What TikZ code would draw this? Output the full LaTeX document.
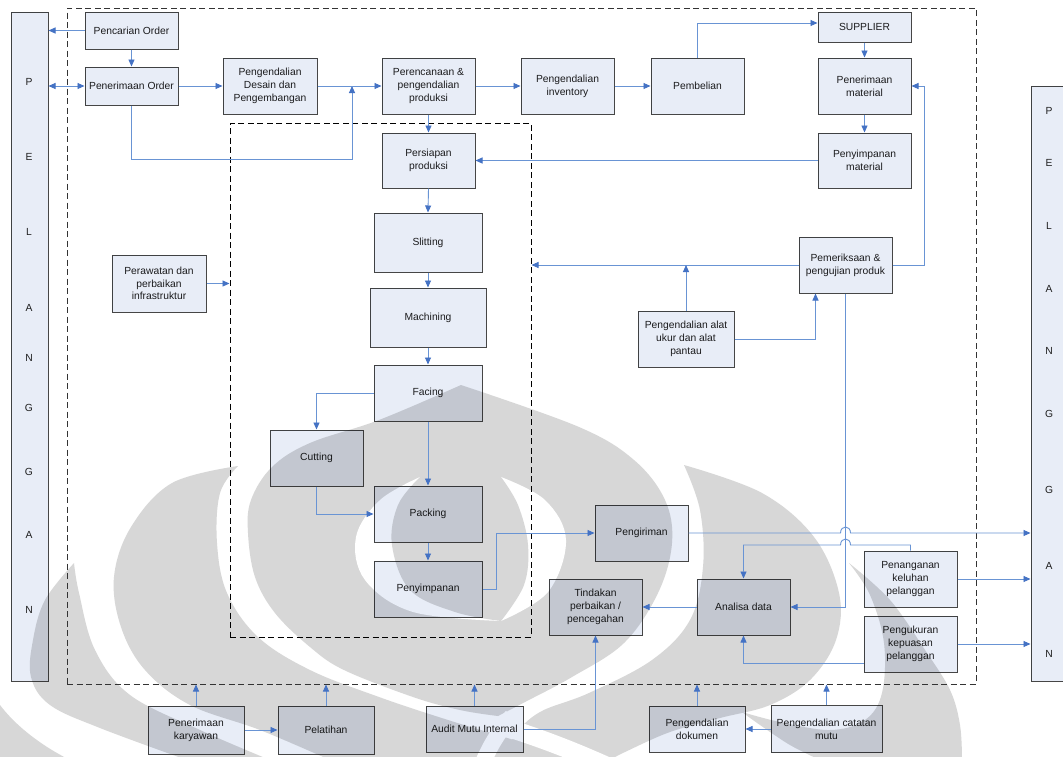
\documentclass[tikz,border=0pt]{standalone}
\usepackage{fontspec}
\setmainfont{Liberation Sans}
\usetikzlibrary{arrows.meta,calc}
\definecolor{boxfill}{RGB}{232,237,247}
\definecolor{boxline}{RGB}{70,70,70}
\definecolor{linkblue}{RGB}{105,148,212}
\definecolor{tipblue}{RGB}{68,114,196}
\definecolor{wmgray}{RGB}{215,215,215}
\definecolor{txt}{RGB}{30,30,30}
\begin{document}
\begin{tikzpicture}[x=1pt,y=-1pt,
  pbox/.style={draw=boxline, line width=1pt, fill=boxfill, blend mode=multiply,
    align=center, font=\fontsize{10.3}{12.8}\selectfont, text=txt, inner sep=1pt},
  bar/.style={draw=boxline, line width=1pt, fill=boxfill, blend mode=multiply},
  lettr/.style={font=\fontsize{10.3}{12}\selectfont, text=txt, inner sep=0pt},
  frame/.style={draw=black!80, line width=1pt, dash pattern=on 6pt off 3.5pt, inner sep=0pt},
  conn/.style={draw=linkblue, line width=0.9pt, -{Triangle[length=7pt,width=6pt,color=tipblue]}},
  conntwo/.style={draw=linkblue, line width=0.9pt, {Triangle[length=7pt,width=6pt,color=tipblue]}-{Triangle[length=7pt,width=6pt,color=tipblue]}},
  wm/.style={fill=wmgray}
]
\clip (0,0) rectangle (1063,756);
\fill[white] (0,0) rectangle (1063,756);

% ---- background emblem ----
% outer dome
\fill[wm] plot[smooth,tension=0.6] coordinates {(461,385) (379,420) (310,443) (272,467) (251,500) (248,533) (255,577) (275,613) (310,647) (344,670) (413,697) (460,710) (498,716)}
  -- plot[smooth,tension=0.6] coordinates {(498,716) (525,702) (572,677) (624,643) (658,593) (672,543) (665,500) (634,460) (579,427) (461,385)} -- cycle;
% white almond inside the dome
\fill[white] plot[smooth,tension=0.6] coordinates {(420,477) (380,500) (356,537) (365,580) (413,612) (501,621)}
  -- plot[smooth,tension=0.6] coordinates {(501,621) (548,592) (566,540) (545,500) (501,477)} -- cycle;
% inner flame
\fill[wm] plot[smooth,tension=0.6] coordinates {(420,477) (398,505) (392,545) (410,590) (455,612) (501,621)}
  -- plot[smooth,tension=0.6] coordinates {(501,621) (524,585) (528,545) (518,505) (501,477)} -- cycle;
% left lobe
\fill[wm] plot[smooth,tension=0.6] coordinates {(238,466) (220,493) (217,543) (227,593) (258,637) (310,670) (379,697) (448,720) (520,742) (570,760)}
  -- (330,760) -- plot[smooth,tension=0.6] coordinates {(330,760) (260,730) (190,705) (145,670) (121,627) (114,577) (131,527) (172,483) (238,466)} -- cycle;
% right lobe
\fill[wm] plot[smooth,tension=0.6] coordinates {(684,465) (762,493) (814,537) (839,593) (836,640) (810,680) (770,705) (720,718) (670,732) (625,752) (610,760)}
  -- (505,760) -- plot[smooth,tension=0.6] coordinates {(505,760) (515,735) (540,712) (589,693) (652,660) (690,620) (703,567) (700,510) (684,465)} -- cycle;
% far left band
\fill[wm] plot[smooth,tension=0.6] coordinates {(74,563) (45,600) (33,640) (31,677) (50,705) (100,728) (187,760)}
  -- (270,760) -- plot[smooth,tension=0.6] coordinates {(270,760) (200,730) (130,695) (95,650) (79,593) (74,563)} -- cycle;
% bottom left corner
\fill[wm] (0,705) .. controls (15,725) and (40,745) .. (70,760) -- (0,760) -- cycle;
% far right band, curling back to the left at its foot
\fill[wm] plot[smooth,tension=0.6] coordinates {(849,563) (890,600) (925,650) (950,690) (960,725) (962,760)}
  -- (820,760) -- plot[smooth,tension=0.6] coordinates {(820,760) (790,745) (760,725) (742,712)}
  -- plot[smooth,tension=0.6] coordinates {(742,712) (780,722) (830,730) (865,720) (882,693) (884,643) (870,595) (849,563)} -- cycle;
% crossing stripes at the foot
\draw[white, line width=18pt] (505,727) .. controls (530,735) and (560,745) .. (605,765);
\draw[white, line width=16pt] (512,716) .. controls (500,730) and (490,745) .. (482,765);

% ---- dashed frames ----
\node[frame, minimum width=909pt, minimum height=676pt] (outer) at (521.5,346) {};
\node[frame, draw=black, minimum width=301pt, minimum height=514pt] (inner) at (380.5,380) {};

% ---- customer bars ----
\node[bar, minimum width=37pt, minimum height=669pt] (lbar) at (29.5,346.5) {};
\node[bar, minimum width=39pt, minimum height=595pt] (rbar) at (1050.5,383.5) {};
\foreach \l/\yy [count=\i] in {P/82,E/157,L/232,A/308,N/358,G/408,G/472,A/535,N/610}
  \node[lettr] (ll\i) at (29,\yy) {\l};
\foreach \l/\yy [count=\i] in {P/111,E/163,L/226,A/289,N/351,G/414,G/490,A/566,N/654}
  \node[lettr] (rl\i) at (1049,\yy) {\l};

% ---- process boxes ----
\node[pbox, minimum width=93pt, minimum height=37pt] (pencarian) at (131.5,30.5) {Pencarian Order};
\node[pbox, minimum width=93pt, minimum height=38pt] (penorder) at (131.5,86) {Penerimaan Order};
\node[pbox, minimum width=94pt, minimum height=56pt] (desain) at (270,86) {Pengendalian\\Desain dan\\Pengembangan};
\node[pbox, minimum width=93pt, minimum height=56pt] (perenc) at (428.5,86) {Perencanaan \&\\pengendalian\\produksi};
\node[pbox, minimum width=93pt, minimum height=56pt] (invent) at (567.5,86) {Pengendalian\\inventory};
\node[pbox, minimum width=93pt, minimum height=56pt] (pembelian) at (697.5,86) {Pembelian};
\node[pbox, minimum width=93pt, minimum height=30pt] (supplier) at (864.5,27) {SUPPLIER};
\node[pbox, minimum width=93pt, minimum height=56pt] (penmat) at (864.5,86) {Penerimaan\\material};
\node[pbox, minimum width=93pt, minimum height=55pt] (penymat) at (864.5,160.5) {Penyimpanan\\material};
\node[pbox, minimum width=93pt, minimum height=55pt] (persiapan) at (428.5,160.5) {Persiapan\\produksi};
\node[pbox, minimum width=108pt, minimum height=59pt] (slitting) at (428,242.5) {Slitting};
\node[pbox, minimum width=116pt, minimum height=59pt] (machining) at (428,317.5) {Machining};
\node[pbox, minimum width=108pt, minimum height=56pt] (facing) at (428,393) {Facing};
\node[pbox, minimum width=93pt, minimum height=56pt] (cutting) at (316.5,458) {Cutting};
\node[pbox, minimum width=108pt, minimum height=56pt] (packing) at (428,514) {Packing};
\node[pbox, minimum width=108pt, minimum height=56pt] (penyimpanan) at (428,589) {Penyimpanan};
\node[pbox, minimum width=94pt, minimum height=57pt] (perawatan) at (159,283.5) {Perawatan dan\\perbaikan\\infrastruktur};
\node[pbox, minimum width=93pt, minimum height=56pt] (pemeriksaan) at (845.5,265) {Pemeriksaan \&\\pengujian produk};
\node[pbox, minimum width=96pt, minimum height=56pt] (alat) at (686,339) {Pengendalian alat\\ukur dan alat\\pantau};
\node[pbox, minimum width=93pt, minimum height=56pt] (pengiriman) at (641.5,533) {Pengiriman};
\node[pbox, minimum width=93pt, minimum height=56pt] (tindakan) at (595.5,607) {Tindakan\\perbaikan /\\pencegahan};
\node[pbox, minimum width=93pt, minimum height=56pt] (analisa) at (743.5,607) {Analisa data};
\node[pbox, minimum width=93pt, minimum height=56pt] (penanganan) at (910.5,579) {Penanganan\\keluhan\\pelanggan};
\node[pbox, minimum width=93pt, minimum height=56pt] (pengukuran) at (910.5,644) {Pengukuran\\kepuasan\\pelanggan};
\node[pbox, minimum width=96pt, minimum height=48pt] (penkary) at (196,730) {Penerimaan\\karyawan};
\node[pbox, minimum width=96pt, minimum height=48pt] (pelatihan) at (326,730) {Pelatihan};
\node[pbox, minimum width=97pt, minimum height=46pt] (audit) at (474.5,729) {Audit Mutu Internal};
\node[pbox, minimum width=96pt, minimum height=46pt] (dokumen) at (697,729) {Pengendalian\\dokumen};
\node[pbox, minimum width=111pt, minimum height=47pt] (catatan) at (826.5,729) {Pengendalian catatan\\mutu};

% ---- connectors ----
\draw[conn] (pencarian.west) -- (pencarian.west -| lbar.east);
\draw[conn] (pencarian.south) -- (penorder.north);
\draw[conntwo] (penorder.west -| lbar.east) -- (penorder.west);
\draw[conn] (penorder.east) -- (desain.west);
\coordinate (jdes) at (352,86);
\draw[conn] (penorder.south) |- (352,159) -- (jdes);
\draw[conn] (desain.east) -- (perenc.west);
\draw[conn] (perenc.east) -- (invent.west);
\draw[conn] (invent.east) -- (pembelian.west);
\draw[conn] (pembelian.north) |- ([yshift=4pt]supplier.west);
\draw[conn] (supplier.south) -- (penmat.north);
\draw[conn] (penmat.south) -- (penymat.north);
\draw[conn] (penymat.west) -- (persiapan.east);
\draw[conn] (perenc.south) -- (persiapan.north);
\draw[conn] (persiapan.south) -- (slitting.north);
\draw[conn] (slitting.south) -- (machining.north);
\draw[conn] (machining.south) -- (facing.north);
\draw[conn] (facing.west) -| (cutting.north);
\draw[conn] (facing.south) -- (packing.north);
\draw[conn] (cutting.south) |- (packing.west);
\draw[conn] (packing.south) -- (penyimpanan.north);
\draw[conn] (penyimpanan.east) -- ++(14,0) |- (pengiriman.west);
\draw[conn] (perawatan.east) -- (perawatan.east -| inner.west);
\draw[conn] (pemeriksaan.west) -- (pemeriksaan.west -| inner.east);
\draw[conn] (alat.north) -- (alat.north |- pemeriksaan.west);
\draw[conn] (alat.east) -| ([xshift=-30pt]pemeriksaan.south);
\draw[conn] (pemeriksaan.east) -- ++(32,0) |- (penmat.east);
\draw[conn] (pemeriksaan.south) |- (analisa.east);
\draw[conn] (pengiriman.east) -- (840.5,533) .. controls (840.5,525) and (850.5,525) .. (850.5,533) -- (pengiriman.east -| rbar.west);
\draw[conn] (penanganan.north) |- (850.5,545) .. controls (850.5,537) and (840.5,537) .. (840.5,545) -- (743.5,545) -- (analisa.north);
\draw[conn] (analisa.west) -- (tindakan.east);
\draw[conn] ([yshift=-19pt]pengukuran.west) -| (analisa.south);
\draw[conn] (penanganan.east) -- (penanganan.east -| rbar.west);
\draw[conn] (pengukuran.east) -- (pengukuran.east -| rbar.west);
\draw[conn] (penkary.north) -- (penkary.north |- outer.south);
\draw[conn] (pelatihan.north) -- (pelatihan.north |- outer.south);
\draw[conn] (audit.north) -- (audit.north |- outer.south);
\draw[conn] (dokumen.north) -- (dokumen.north |- outer.south);
\draw[conn] (catatan.north) -- (catatan.north |- outer.south);
\draw[conn] (penkary.east) -- (pelatihan.west);
\draw[conn] (catatan.west) -- (dokumen.east);
\draw[conn] (audit.east) -| (tindakan.south);
\end{tikzpicture}
\end{document}
